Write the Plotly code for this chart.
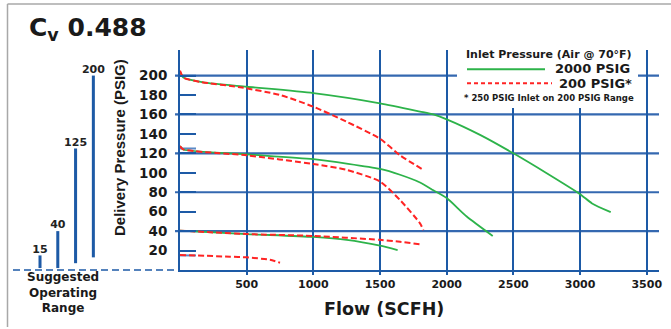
import plotly.graph_objects as go

# Cv 0.488 flow curves
# 200 PSIG delivery setting
g200_flow = [0, 25, 175, 500, 1000, 1500, 1800, 1900, 2000, 2250, 2500, 2750, 3000, 3090, 3230]
g200_pres = [204, 198, 193, 188.5, 182, 171.5, 163, 160, 155, 139, 120, 99.5, 78, 68.5, 59.5]
r200_flow = [0, 25, 150, 450, 750, 1000, 1250, 1500, 1650, 1825]
r200_pres = [205, 198, 193.5, 188, 180, 168, 152.5, 135, 118, 103]
# 125 PSIG delivery setting
g125_flow = [0, 25, 500, 1000, 1500, 1650, 1800, 1900, 2000, 2150, 2345]
g125_pres = [127.5, 124, 119, 114, 104, 98, 90, 82, 74, 55, 35]
r125_flow = [0, 25, 500, 1000, 1250, 1500, 1650, 1800, 1825]
r125_pres = [127.5, 124, 118, 109, 103, 91, 72, 48, 41]
# 40 PSIG delivery setting
g40_flow = [0, 500, 1000, 1250, 1500, 1632]
g40_pres = [40.5, 37, 34, 31, 25, 20.5]
r40_flow = [0, 500, 1000, 1500, 1650, 1800]
r40_pres = [40.5, 37, 35, 31, 29, 26.5]
# 15 PSIG delivery setting
r15_flow = [0, 375, 500, 675, 750]
r15_pres = [15.5, 13.7, 13, 10.5, 7.5]

# suggested operating range bars
ranges = [15, 40, 125, 200]
range_base = [2, 2, 7, 13]
range_pos = [1, 2, 3, 4]

x_ticks = [500, 1000, 1500, 2000, 2500, 3000, 3500]
y_ticks = [20, 40, 60, 80, 100, 120, 140, 160, 180, 200]
y_grid = [40, 80, 120, 160, 200]

BLUE = "#1d5aa6"
GRID = "#3468b0"
GREEN = "#2db34a"
RED = "#ff2424"
TXT = "#1a1a1a"
FONT = "DejaVu Sans"

W, H = 671, 329
ML, MR, MT, MB = 8, 12, 50, 59
PW = W - ML - MR
PH = H - MT - MB


def px(x, y):
    # pixel position -> paper coords
    return (x - ML) / PW, (H - MB - y) / PH


fig = go.Figure()

curves = [
    (g200_flow, g200_pres, GREEN, "solid"),
    (g125_flow, g125_pres, GREEN, "solid"),
    (g40_flow, g40_pres, GREEN, "solid"),
    (r200_flow, r200_pres, RED, "6px,3px"),
    (r125_flow, r125_pres, RED, "6px,3px"),
    (r40_flow, r40_pres, RED, "6px,3px"),
    (r15_flow, r15_pres, RED, "6px,3px"),
]
for fx, fy, col, dash in curves:
    fig.add_trace(go.Scatter(
        x=fx, y=fy, mode="lines",
        line=dict(color=col, width=2 if col == RED else 1.8, dash=dash, shape="spline", smoothing=0.6),
        hoverinfo="skip"
    ))

fig.add_trace(go.Bar(
    x=range_pos, y=[r - b for r, b in zip(ranges, range_base)], base=range_base,
    width=0.17, marker=dict(color=BLUE, line=dict(width=0)),
    xaxis="x2", yaxis="y"
))
fig.add_trace(go.Scatter(
    x=range_pos, y=ranges, mode="text", text=[str(r) for r in ranges],
    textposition="top center", cliponaxis=False,
    textfont=dict(family=FONT, size=11, color="#222", weight="bold"),
    xaxis="x2", yaxis="y"
))

x0_dom = (180 - ML) / PW
fig.update_layout(
    width=W, height=H,
    margin=dict(l=ML, r=MR, t=MT, b=MB),
    plot_bgcolor="white", paper_bgcolor="white",
    showlegend=False,
    xaxis=dict(
        domain=[x0_dom, 1], range=[0, 3592],
        tickvals=x_ticks, ticktext=[str(v) for v in x_ticks],
        showgrid=True, gridcolor=BLUE, gridwidth=2,
        showline=True, linecolor=BLUE, linewidth=2,
        ticks="outside", ticklen=3, tickwidth=2, tickcolor=BLUE,
        tickfont=dict(family=FONT, size=11, color=TXT, weight="bold"),
        zeroline=False, anchor="y", automargin=False,
    ),
    yaxis=dict(
        range=[0, 226.3], tickvals=y_ticks,
        showgrid=False,
        showline=True, linecolor=BLUE, linewidth=2,
        ticks="inside", ticklen=16, tickwidth=2, tickcolor=BLUE,
        tickfont=dict(family=FONT, size=13.5, color=TXT, weight="bold"),
        ticklabelstandoff=8,
        zeroline=False, anchor="x", automargin=False,
    ),
    xaxis2=dict(
        domain=[0, (170 - ML) / PW], range=[-0.8, 8.31],
        visible=False, anchor="y",
    ),
)

shapes = []
# horizontal grid lines
for g in y_grid:
    shapes.append(dict(type="line", xref="x domain", yref="y", x0=-0.0104, x1=1, y0=g, y1=g,
                       line=dict(color=GRID, width=2.2), layer="below"))
# short marks for the suggested ranges
for r in ranges:
    shapes.append(dict(type="line", xref="x", yref="y", x0=0, x1=120, y0=r, y1=r,
                       line=dict(color="#5b8ac6", width=2), layer="below"))
# dashed base line on the left panel
shapes.append(dict(type="line", xref="paper", yref="paper", x0=px(13, 0)[0], x1=x0_dom, y0=0, y1=0,
                   line=dict(color=BLUE, width=1.5, dash="7px,4px")))
# legend box
lx0, ly0 = px(457, 108)
lx1, ly1 = px(638, 48)
shapes.append(dict(type="rect", xref="paper", yref="paper", x0=lx0, x1=lx1, y0=ly0, y1=ly1,
                   fillcolor="white", line=dict(width=0), layer="above"))
a, b = px(467, 69.3)
c, _ = px(545, 69.3)
shapes.append(dict(type="line", xref="paper", yref="paper", x0=a, x1=c, y0=b, y1=b,
                   line=dict(color=GREEN, width=2), layer="above"))
a, b = px(467, 83.3)
c, _ = px(552, 83.3)
shapes.append(dict(type="line", xref="paper", yref="paper", x0=a, x1=c, y0=b, y1=b,
                   line=dict(color=RED, width=2, dash="4px,3px"), layer="above"))
# outer frame
fx0, fy0 = px(7.5, 4)
_, fy1 = px(7.5, 327)
shapes.append(dict(type="line", xref="paper", yref="paper", x0=fx0, x1=1.05, y0=fy0, y1=fy0,
                   line=dict(color="#a8a8a8", width=1.5)))
shapes.append(dict(type="line", xref="paper", yref="paper", x0=fx0, x1=fx0, y0=fy0, y1=fy1,
                   line=dict(color="#a8a8a8", width=1.5)))
fig.update_layout(shapes=shapes)


def note(text, x, y, size, xanchor="center", family=FONT, angle=0):
    ax, ay = px(x, y)
    fig.add_annotation(text=text, xref="paper", yref="paper", x=ax, y=ay,
                       xanchor=xanchor, yanchor="middle", showarrow=False, textangle=angle,
                       font=dict(family=family, size=size, color=TXT))


note("<b>C<sub>v</sub> 0.488</b>", 27, 29, 25, xanchor="left")
note("<b>Delivery Pressure (PSIG)</b>", 119, 148, 15, family="Liberation Sans", angle=-90)
note("<b>Flow (SCFH)</b>", 384, 309, 17.5)
note("<b>Suggested<br>Operating<br>Range</b>", 63, 292, 12)
note("<b>Inlet Pressure (Air @ 70°F)</b>", 549, 54, 11)
note("<b>2000 PSIG</b>", 632, 69, 13, xanchor="right")
note("<b>200 PSIG*</b>", 634, 83, 13, xanchor="right")
note("<b>* 250 PSIG Inlet on 200 PSIG Range</b>", 549, 97.5, 8.5)

# the page body has a default margin; drop it so the figure sits at the corner
fig.write_html("out.html", config={"displayModeBar": False},
               post_script="document.body.style.margin='0';")
